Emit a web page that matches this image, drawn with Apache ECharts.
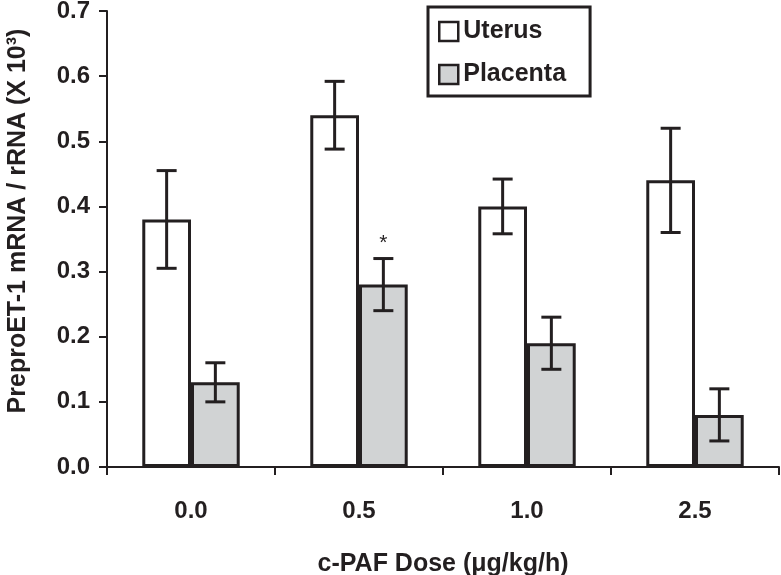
<!DOCTYPE html>
<html>
<head>
<meta charset="utf-8">
<script src="https://cdn.jsdelivr.net/npm/echarts@6/dist/echarts.min.js"></script>
<style>html,body{margin:0;padding:0;background:#fff}#c{width:781px;height:575px}</style>
</head>
<body>
<div id="c"></div>
<script>
const categories = ['0.0', '0.5', '1.0', '2.5'];
const uterusMean = [0.38, 0.54, 0.40, 0.44];
const uterusErr = [0.075, 0.052, 0.042, 0.08];
const placentaMean = [0.13, 0.28, 0.19, 0.08];
const placentaErr = [0.03, 0.04, 0.04, 0.04];
const placentaSig = ['', '*', '', ''];
const yMin = 0, yMax = 0.7, yInterval = 0.1;

const INK = '#231f20';
const FONT = 'Liberation Sans';
const CAT_GAP = 0.42;

function errData(mean, err, sig) {
  return mean.map((m, i) => [i, m - err[i], m + err[i], sig ? sig[i] : '']);
}
function errRender(side) {
  return function (params, api) {
    const idx = api.value(0);
    const lo = api.value(1), hi = api.value(2);
    const sig = api.value(3);
    const catW = api.size([1, 0])[0];
    const barW = catW * (1 - CAT_GAP) / 2;
    const pHi = api.coord([idx, hi]);
    const pLo = api.coord([idx, lo]);
    const x = pHi[0] + side * barW / 2;
    const cap = 10;
    const st = { stroke: INK, lineWidth: 3 };
    const children = [
      { type: 'line', shape: { x1: x, y1: pHi[1], x2: x, y2: pLo[1] }, style: st },
      { type: 'line', shape: { x1: x - cap, y1: pHi[1], x2: x + cap, y2: pHi[1] }, style: st },
      { type: 'line', shape: { x1: x - cap, y1: pLo[1], x2: x + cap, y2: pLo[1] }, style: st }
    ];
    if (sig && sig !== '' && sig !== '-') {
      children.push({ type: 'text', style: { text: String(sig), x: x, y: pHi[1] - 5, align: 'center', verticalAlign: 'bottom', fill: INK, font: '21px ' + FONT } });
    }
    return { type: 'group', children };
  };
}

const chart = echarts.init(document.getElementById('c'), null, { renderer: 'canvas' });
chart.setOption({
  animation: false,
  backgroundColor: '#fff',
  textStyle: { fontFamily: FONT, color: INK },
  grid: { left: 107, right: 2, top: 11, bottom: 108, containLabel: false, outerBoundsMode: 'none' },
  legend: {
    data: ['Uterus', 'Placenta'],
    orient: 'vertical',
    left: 428, top: 7,
    padding: [12, 24, 9, 10],
    itemGap: 18,
    itemWidth: 19, itemHeight: 19,
    icon: 'rect',
    borderColor: INK, borderWidth: 3,
    backgroundColor: '#fff',
    itemStyle: { borderColor: INK, borderWidth: 2.5 },
    textStyle: { fontFamily: FONT, fontWeight: 'bold', fontSize: 25, color: INK }
  },
  xAxis: {
    type: 'category',
    data: categories,
    axisLine: { lineStyle: { color: INK, width: 2 } },
    axisTick: { show: true, length: 8, lineStyle: { color: INK, width: 2 } },
    axisLabel: { margin: 32, fontFamily: FONT, fontWeight: 'bold', fontSize: 24, color: INK },
    name: 'c-PAF Dose (\u03bcg/kg/h)',
    nameLocation: 'middle',
    nameGap: 85,
    nameTextStyle: { fontFamily: FONT, fontWeight: 'bold', fontSize: 25, color: INK }
  },
  yAxis: {
    type: 'value',
    min: yMin, max: yMax, interval: yInterval,
    splitLine: { show: false },
    axisLine: { show: true, lineStyle: { color: INK, width: 2 } },
    axisTick: { show: true, length: 8, lineStyle: { color: INK, width: 2 } },
    axisLabel: { margin: 17, fontFamily: FONT, fontWeight: 'bold', fontSize: 24, color: INK, formatter: v => v.toFixed(1) },
    name: 'PreproET-1 mRNA / rRNA (X 10\u00b3)',
    nameLocation: 'middle',
    nameGap: 76,
    nameRotate: 90,
    nameTextStyle: { fontFamily: FONT, fontWeight: 'bold', fontSize: 25, color: INK, padding: [0, 0, 0, 36] }
  },
  series: [
    {
      name: 'Uterus', type: 'bar', data: uterusMean,
      barGap: '0%', barCategoryGap: (CAT_GAP * 100) + '%',
      itemStyle: { color: '#ffffff', borderColor: INK, borderWidth: 3 }
    },
    {
      name: 'Placenta', type: 'bar', data: placentaMean,
      barGap: '0%', barCategoryGap: (CAT_GAP * 100) + '%',
      itemStyle: { color: '#d1d3d4', borderColor: INK, borderWidth: 3 }
    },
    {
      name: 'UterusErr', type: 'custom', z: 3,
      renderItem: errRender(-1),
      encode: { x: 0, y: [1, 2] },
      data: errData(uterusMean, uterusErr)
    },
    {
      name: 'PlacentaErr', type: 'custom', z: 3,
      renderItem: errRender(1),
      encode: { x: 0, y: [1, 2] },
      data: errData(placentaMean, placentaErr, placentaSig)
    }
  ]
});
</script>
</body>
</html>
